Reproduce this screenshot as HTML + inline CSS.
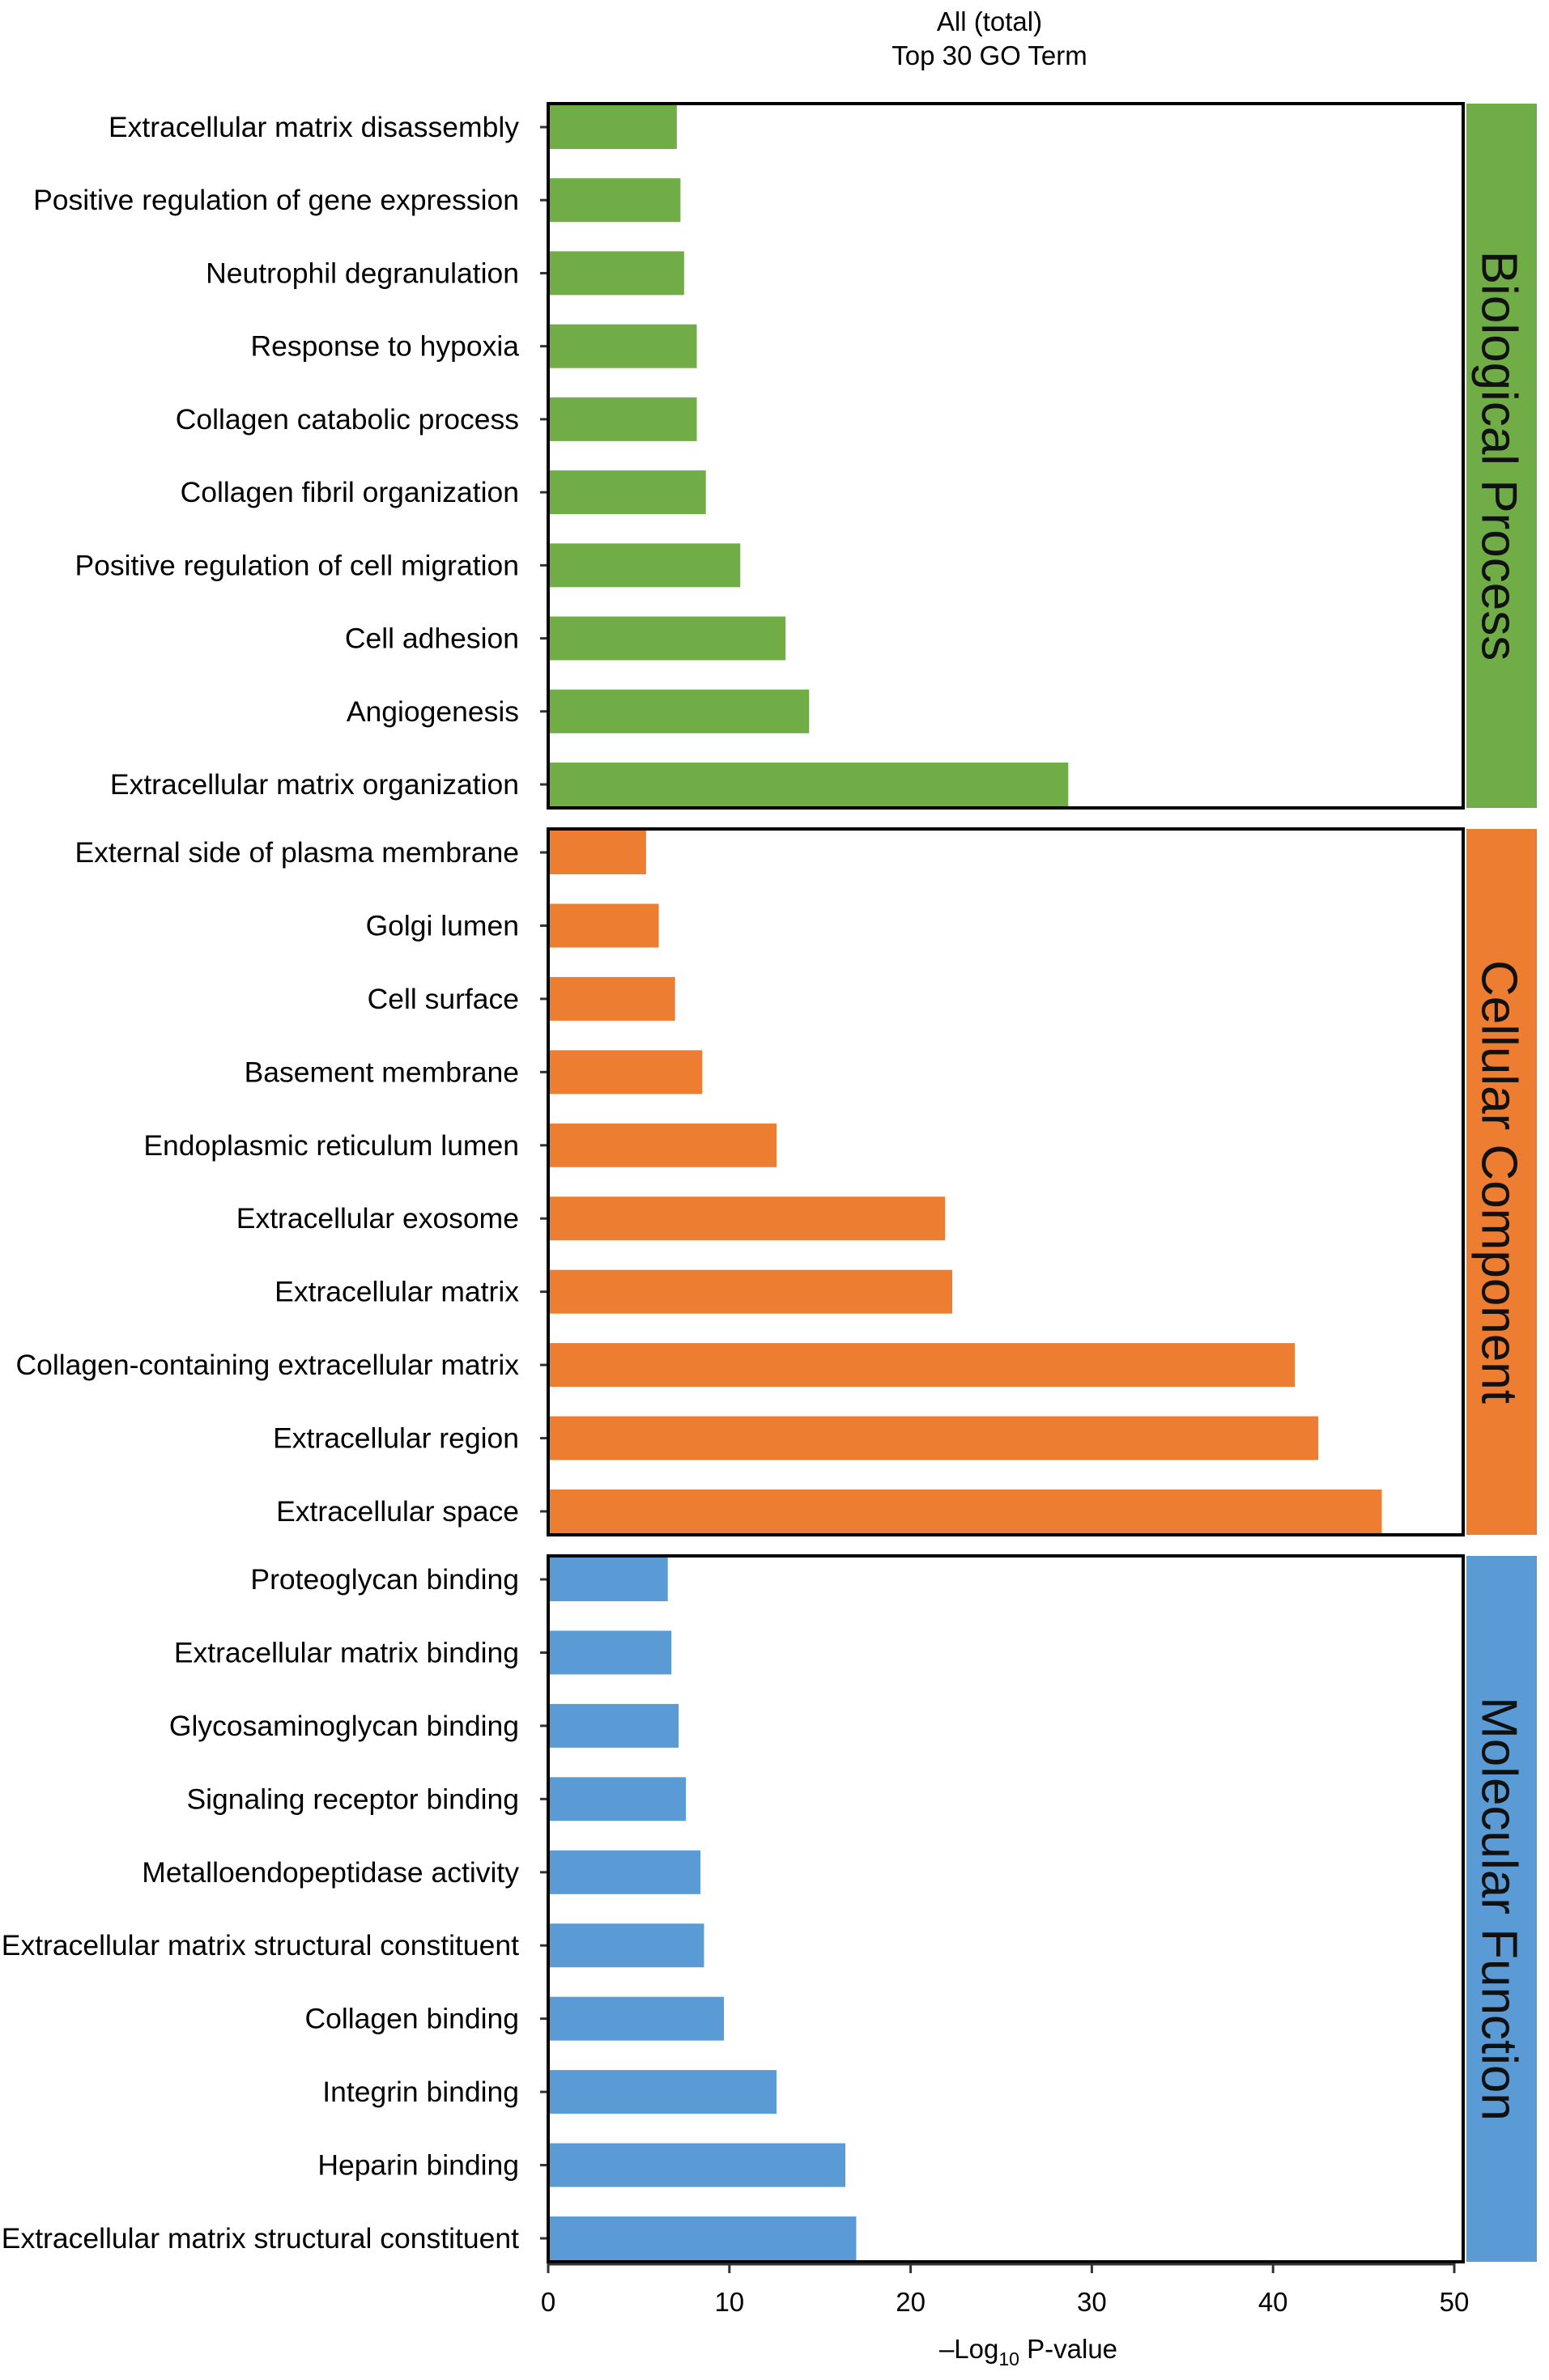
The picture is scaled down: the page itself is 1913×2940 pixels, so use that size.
<!DOCTYPE html>
<html><head><meta charset="utf-8"><style>
html,body{margin:0;padding:0;background:#fff;}
svg{display:block;font-family:"Liberation Sans",Arial,sans-serif;}
</style></head><body>
<svg id="chart" width="1913" height="2940" viewBox="0 0 1913 2940">
<text x="1222" y="38" font-size="33" text-anchor="middle">All (total)</text>
<text x="1222" y="80" font-size="33" text-anchor="middle">Top 30 GO Term</text>
<g id="plots"></g>
<g id="xaxis"></g>
<text x="1270" y="2913" font-size="33" text-anchor="middle">–Log<tspan font-size="23" dy="9">10</tspan><tspan dy="-9"> P-value</tspan></text>
</svg>
<script>
const bpTerms=["Extracellular matrix disassembly","Positive regulation of gene expression","Neutrophil degranulation","Response to hypoxia","Collagen catabolic process","Collagen fibril organization","Positive regulation of cell migration","Cell adhesion","Angiogenesis","Extracellular matrix organization"];
const bpValues=[7.1,7.3,7.5,8.2,8.2,8.7,10.6,13.1,14.4,28.7];
const ccTerms=["External side of plasma membrane","Golgi lumen","Cell surface","Basement membrane","Endoplasmic reticulum lumen","Extracellular exosome","Extracellular matrix","Collagen-containing extracellular matrix","Extracellular region","Extracellular space"];
const ccValues=[5.4,6.1,7.0,8.5,12.6,21.9,22.3,41.2,42.5,46.0];
const mfTerms=["Proteoglycan binding","Extracellular matrix binding","Glycosaminoglycan binding","Signaling receptor binding","Metalloendopeptidase activity","Extracellular matrix structural constituent","Collagen binding","Integrin binding","Heparin binding","Extracellular matrix structural constituent"];
const mfValues=[6.6,6.8,7.2,7.6,8.4,8.6,9.7,12.6,16.4,17.0];
const xTicks=[0,10,20,30,40,50];
const panelNames=["Biological Process","Cellular Component","Molecular Function"];

const NS="http://www.w3.org/2000/svg";
const X0=677,X1=1796,PL=677,PR=1807;
function xs(v){return X0+(X1-X0)*v/50;}
function mk(tag,attrs,parent){const e=document.createElementNS(NS,tag);for(const k in attrs)e.setAttribute(k,attrs[k]);parent.appendChild(e);return e;}
const plots=document.getElementById('plots');
const panels=[
 {terms:bpTerms,vals:bpValues,top:128,bot:998,color:"#70ad47",key:"bp"},
 {terms:ccTerms,vals:ccValues,top:1024,bot:1896,color:"#ed7d31",key:"cc"},
 {terms:mfTerms,vals:mfValues,top:1922,bot:2794,color:"#5b9bd5",key:"mf"}
];
panels.forEach((p,pi)=>{
  const g=mk('g',{},plots);
  
  
  const h=54, n=p.terms.length, step=(p.bot-p.top-h-4)/(n-1);
  p.terms.forEach((t,i)=>{
    const y=p.top+2+i*step;
    const r=mk('rect',{x:xs(0),y:y,width:xs(p.vals[i])-xs(0),height:h,fill:p.color},g);
    
    
    const cy=y+h/2;
    mk('line',{x1:PL-10,x2:PL,y1:cy,y2:cy,stroke:'#333','stroke-width':3},g);
    const tx=mk('text',{x:641,y:cy+12,'font-size':35.5,'text-anchor':'end'},g);
    tx.textContent=t;
    
    
  });
  const fr=mk('rect',{x:PL,y:p.top,width:PR-PL,height:p.bot-p.top,fill:'none',stroke:'#000','stroke-width':4},g);
  
  
  const st=mk('rect',{x:1811,y:p.top,width:87,height:p.bot-p.top,fill:p.color},g);
  
  
  const cy=(p.top+p.bot)/2;
  const lt=mk('text',{x:1851,y:cy,'font-size':62,'text-anchor':'middle',transform:'rotate(90 1851 '+cy+')','dominant-baseline':'central',fill:'#111'},g);
  lt.textContent=panelNames[pi];
  
  
});
const xa=document.getElementById('xaxis');
const al=mk('line',{x1:xs(0),x2:xs(50),y1:2797,y2:2797,stroke:'#333','stroke-width':3},xa);


xTicks.forEach(v=>{
  mk('line',{x1:xs(v),x2:xs(v),y1:2796,y2:2808,stroke:'#333','stroke-width':3},xa);
  const t=mk('text',{x:xs(v),y:2855,'font-size':33,'text-anchor':'middle'},xa);
  t.textContent=v;
  
  
});
</script>
</body></html>
